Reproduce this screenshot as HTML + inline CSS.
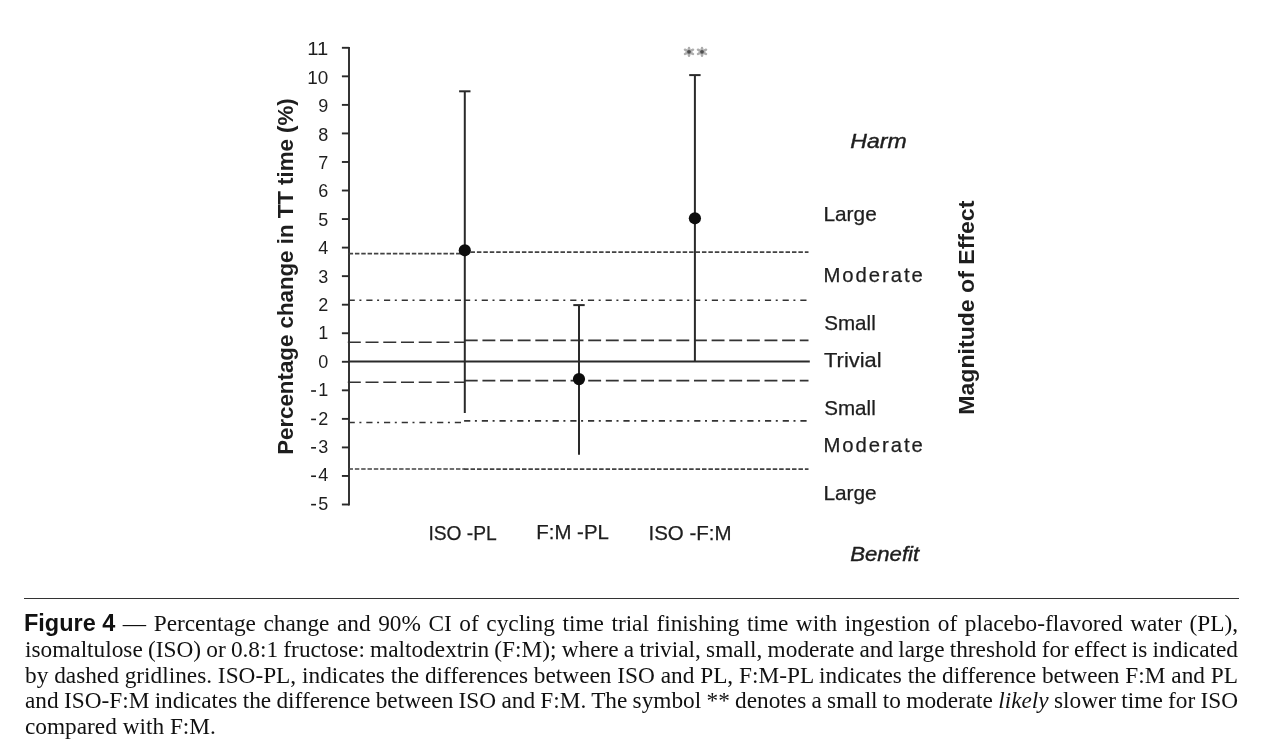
<!DOCTYPE html>
<html><head><meta charset="utf-8"><title>Figure 4</title>
<style>
html,body{margin:0;padding:0;background:#fff;}
body{width:1278px;height:754px;position:relative;overflow:hidden;}
#pg{position:absolute;left:0;top:0;width:1278px;height:754px;will-change:transform;}
.chart{position:absolute;left:0;top:0;filter:blur(0.35px);}
.rule{position:absolute;left:24px;top:598.1px;width:1215px;height:1.4px;background:#333;}
.cap{position:absolute;left:25px;top:0;width:1213px;font-family:"Liberation Serif",serif;font-size:23.3px;color:#111;}
.ln{position:absolute;left:0;width:1213px;height:26px;line-height:26px;white-space:nowrap;text-align:justify;text-align-last:justify;word-spacing:-4px;}
.ln.last{text-align:left;text-align-last:left;word-spacing:0;}
.fig{display:inline-block;width:91.3px;font-family:"Liberation Sans",sans-serif;font-weight:bold;font-size:24.7px;line-height:20px;margin-left:-1px;transform:scaleX(0.951);transform-origin:0 50%;white-space:nowrap;word-spacing:0;}
</style></head>
<body><div id="pg">
<svg class="chart" width="1278" height="590" viewBox="0 0 1278 590">
<g stroke="#2a2a2a" fill="none" stroke-linecap="butt">
<line x1="349" y1="46.9" x2="349" y2="505.4" stroke-width="1.9"/>
<line x1="341.9" y1="47.80" x2="349" y2="47.80" stroke-width="1.9"/>
<line x1="341.9" y1="76.34" x2="349" y2="76.34" stroke-width="1.9"/>
<line x1="341.9" y1="104.89" x2="349" y2="104.89" stroke-width="1.9"/>
<line x1="341.9" y1="133.43" x2="349" y2="133.43" stroke-width="1.9"/>
<line x1="341.9" y1="161.98" x2="349" y2="161.98" stroke-width="1.9"/>
<line x1="341.9" y1="190.52" x2="349" y2="190.52" stroke-width="1.9"/>
<line x1="341.9" y1="219.06" x2="349" y2="219.06" stroke-width="1.9"/>
<line x1="341.9" y1="247.61" x2="349" y2="247.61" stroke-width="1.9"/>
<line x1="341.9" y1="276.15" x2="349" y2="276.15" stroke-width="1.9"/>
<line x1="341.9" y1="304.70" x2="349" y2="304.70" stroke-width="1.9"/>
<line x1="341.9" y1="333.24" x2="349" y2="333.24" stroke-width="1.9"/>
<line x1="341.9" y1="361.78" x2="349" y2="361.78" stroke-width="1.9"/>
<line x1="341.9" y1="390.33" x2="349" y2="390.33" stroke-width="1.9"/>
<line x1="341.9" y1="418.87" x2="349" y2="418.87" stroke-width="1.9"/>
<line x1="341.9" y1="447.42" x2="349" y2="447.42" stroke-width="1.9"/>
<line x1="341.9" y1="475.96" x2="349" y2="475.96" stroke-width="1.9"/>
<line x1="341.9" y1="504.50" x2="349" y2="504.50" stroke-width="1.9"/>
<line x1="349" y1="361.4" x2="809.8" y2="361.4" stroke-width="2"/>
<line x1="348.63" y1="253.6" x2="464.8" y2="253.6" stroke-width="1.6" stroke="#424242" stroke-dasharray="4.45 1.87"/>
<line x1="464.04" y1="252.1" x2="808.5" y2="252.1" stroke-width="1.6" stroke="#424242" stroke-dasharray="4.5 1.93"/>
<line x1="348.60" y1="300.3" x2="464.8" y2="300.3" stroke-width="1.6" stroke="#333" stroke-dasharray="6.2 4.6 2 4.9"/>
<line x1="464.00" y1="300.3" x2="808.5" y2="300.3" stroke-width="1.6" stroke="#333" stroke-dasharray="6.2 4.6 2 4.9"/>
<line x1="347.80" y1="342.2" x2="464.8" y2="342.2" stroke-width="1.6" stroke="#333" stroke-dasharray="13 4.73"/>
<line x1="464.80" y1="340.4" x2="808.5" y2="340.4" stroke-width="1.6" stroke="#333" stroke-dasharray="12.9 4.73"/>
<line x1="347.80" y1="382.3" x2="464.8" y2="382.3" stroke-width="1.6" stroke="#333" stroke-dasharray="13 4.73"/>
<line x1="464.80" y1="380.6" x2="808.5" y2="380.6" stroke-width="1.6" stroke="#333" stroke-dasharray="12.9 4.73"/>
<line x1="348.60" y1="422.5" x2="464.8" y2="422.5" stroke-width="1.6" stroke="#333" stroke-dasharray="6.2 4.6 2 4.9"/>
<line x1="464.10" y1="420.9" x2="808.5" y2="420.9" stroke-width="1.6" stroke="#333" stroke-dasharray="6.2 4.6 2 4.9"/>
<line x1="348.54" y1="469.0" x2="464.8" y2="469.0" stroke-width="1.6" stroke="#424242" stroke-dasharray="4.45 1.87"/>
<line x1="464.10" y1="469.1" x2="808.5" y2="469.1" stroke-width="1.6" stroke="#424242" stroke-dasharray="4.5 1.93"/>
<line x1="464.8" y1="91.3" x2="464.8" y2="412.9" stroke-width="2"/>
<line x1="459.1" y1="91.3" x2="470.5" y2="91.3" stroke-width="2"/>
<line x1="579.0" y1="305.1" x2="579.0" y2="454.8" stroke-width="2"/>
<line x1="573.3" y1="305.1" x2="584.7" y2="305.1" stroke-width="2"/>
<line x1="694.9" y1="75.1" x2="694.9" y2="361.4" stroke-width="2"/>
<line x1="689.2" y1="75.1" x2="700.6" y2="75.1" stroke-width="2"/>
</g>
<circle cx="464.8" cy="250.3" r="6.1" fill="#0d0d0d"/>
<circle cx="579.0" cy="379.1" r="6.1" fill="#0d0d0d"/>
<circle cx="694.9" cy="218.3" r="6.1" fill="#0d0d0d"/>
<defs><filter id="sb" x="-20%" y="-20%" width="140%" height="140%"><feGaussianBlur stdDeviation="0.55"/></filter></defs>
<g filter="url(#sb)">
<g fill="#dedede"><circle cx="689" cy="51.8" r="3.6"/><circle cx="702" cy="51.8" r="3.6"/></g>
<g stroke="#adadad" stroke-width="2.4" stroke-linecap="round">
<line x1="689.00" y1="47.90" x2="689.00" y2="55.70"/><line x1="684.94" y1="49.64" x2="693.06" y2="53.96"/><line x1="684.94" y1="53.96" x2="693.06" y2="49.64"/>
<line x1="702.00" y1="47.90" x2="702.00" y2="55.70"/><line x1="697.94" y1="49.64" x2="706.06" y2="53.96"/><line x1="697.94" y1="53.96" x2="706.06" y2="49.64"/>
</g>
<circle cx="689" cy="51.8" r="1.9" fill="#505050"/><circle cx="702" cy="51.8" r="1.9" fill="#505050"/>
</g>
<g font-family="Liberation Sans, sans-serif" font-size="18" fill="#1e1e1e" text-anchor="end">
<text x="328.2" y="55.29" textLength="21" lengthAdjust="spacingAndGlyphs">11</text>
<text x="328.2" y="83.70" textLength="21" lengthAdjust="spacingAndGlyphs">10</text>
<text x="328.2" y="112.11">9</text>
<text x="328.2" y="140.52">8</text>
<text x="328.2" y="168.93">7</text>
<text x="328.2" y="197.34">6</text>
<text x="328.2" y="225.75">5</text>
<text x="328.2" y="254.16">4</text>
<text x="328.2" y="282.57">3</text>
<text x="328.2" y="310.98">2</text>
<text x="328.2" y="339.39">1</text>
<text x="328.2" y="367.80">0</text>
<text x="328.2" y="396.21">1</text>
<rect x="311.1" y="390.21" width="4.9" height="1.6"/>
<text x="328.2" y="424.62">2</text>
<rect x="311.1" y="418.62" width="4.9" height="1.6"/>
<text x="328.2" y="453.03">3</text>
<rect x="311.1" y="447.03" width="4.9" height="1.6"/>
<text x="328.2" y="481.44">4</text>
<rect x="311.1" y="475.44" width="4.9" height="1.6"/>
<text x="328.2" y="509.85">5</text>
<rect x="311.1" y="503.85" width="4.9" height="1.6"/>
</g>
<g font-family="Liberation Sans, sans-serif" fill="#1e1e1e">
<text x="823.46" y="220.50" textLength="53.26" lengthAdjust="spacingAndGlyphs" font-size="20.3" stroke="#1e1e1e" stroke-width="0.25">Large</text>
<text x="823.46" y="281.50" textLength="99.34" lengthAdjust="spacing" font-size="20.3" stroke="#1e1e1e" stroke-width="0.25">Moderate</text>
<text x="824.26" y="330.20" textLength="51.46" lengthAdjust="spacingAndGlyphs" font-size="20.3" stroke="#1e1e1e" stroke-width="0.25">Small</text>
<text x="824.08" y="367.00" textLength="57.48" lengthAdjust="spacingAndGlyphs" font-size="20.3" stroke="#1e1e1e" stroke-width="0.25">Trivial</text>
<text x="824.26" y="415.20" textLength="51.46" lengthAdjust="spacingAndGlyphs" font-size="20.3" stroke="#1e1e1e" stroke-width="0.25">Small</text>
<text x="823.46" y="452.00" textLength="99.34" lengthAdjust="spacing" font-size="20.3" stroke="#1e1e1e" stroke-width="0.25">Moderate</text>
<text x="823.40" y="500.20" textLength="53.32" lengthAdjust="spacingAndGlyphs" font-size="20.3" stroke="#1e1e1e" stroke-width="0.25">Large</text>
<text x="850.24" y="148.00" textLength="56.38" lengthAdjust="spacingAndGlyphs" font-size="20.3" font-style="italic" stroke="#1e1e1e" stroke-width="0.4">Harm</text>
<text x="850.18" y="561.20" textLength="69.04" lengthAdjust="spacingAndGlyphs" font-size="20.3" font-style="italic" stroke="#1e1e1e" stroke-width="0.4">Benefit</text>
<text x="428.40" y="540.40" textLength="68.38" lengthAdjust="spacingAndGlyphs" font-size="20.3" stroke="#1e1e1e" stroke-width="0.25">ISO -PL</text>
<text x="536.34" y="538.70" textLength="72.50" lengthAdjust="spacingAndGlyphs" font-size="20.3" stroke="#1e1e1e" stroke-width="0.25">F:M -PL</text>
<text x="648.44" y="540.40" textLength="83.08" lengthAdjust="spacingAndGlyphs" font-size="20.3" stroke="#1e1e1e" stroke-width="0.25">ISO -F:M</text>
<text transform="translate(293.30 454.86) rotate(-90)" textLength="356.64" lengthAdjust="spacingAndGlyphs" font-size="22.6" font-weight="bold">Percentage change in TT time (%)</text>
<text transform="translate(973.66 414.70) rotate(-90)" textLength="214.06" lengthAdjust="spacingAndGlyphs" font-size="22.6" font-weight="bold">Magnitude of Effect</text>
</g>
</svg>
<div class="rule"></div>
<div class="cap">
<div class="ln" style="top:609.94px"><span class="fig">Figure 4</span> &#8212; Percentage change and 90% CI of cycling time trial finishing time with ingestion of placebo-flavored water (PL),</div>
<div class="ln" style="top:635.74px">isomaltulose (ISO) or 0.8:1 fructose: maltodextrin (F:M); where a trivial, small, moderate and large threshold for effect is indicated</div>
<div class="ln" style="top:661.54px">by dashed gridlines. ISO-PL, indicates the differences between ISO and PL, F:M-PL indicates the difference between F:M and PL</div>
<div class="ln" style="top:687.34px">and ISO-F:M indicates the difference between ISO and F:M. The symbol ** denotes a small to moderate <i>likely</i> slower time for ISO</div>
<div class="ln last" style="top:713.44px">compared with F:M.</div>
</div>
</div></body></html>
